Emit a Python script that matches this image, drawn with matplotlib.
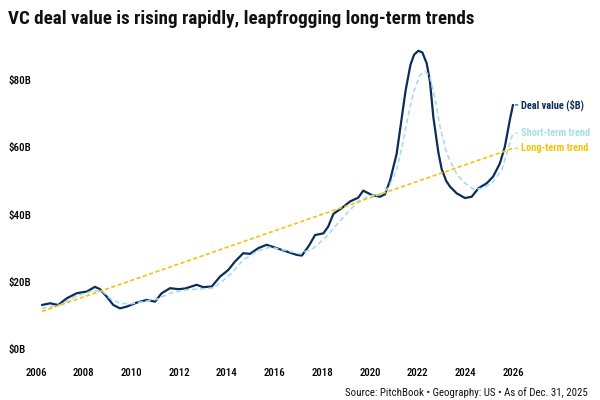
import matplotlib
matplotlib.use('Agg')
import matplotlib.pyplot as plt
from matplotlib.font_manager import fontManager

# 데이터 (그림에서 읽은 값, $B)
deal_years = [2006.25, 2006.59, 2006.93, 2007.29, 2007.71, 2008.13, 2008.47, 2008.68,
              2008.96, 2009.24, 2009.52, 2009.8, 2010.22, 2010.64, 2010.99, 2011.27,
              2011.62, 2011.97, 2012.25, 2012.74, 2013.01, 2013.37, 2013.71, 2014.06,
              2014.34, 2014.69, 2014.97, 2015.32, 2015.67, 2016.09, 2016.51, 2016.93,
              2017.15, 2017.45, 2017.7, 2018.05, 2018.25, 2018.47, 2018.82, 2019.17,
              2019.51, 2019.72, 2020.08, 2020.42, 2020.63, 2020.84, 2021.12, 2021.3,
              2021.5, 2021.7, 2021.85, 2022.03, 2022.2, 2022.38, 2022.52, 2022.66,
              2022.87, 2023.01, 2023.2, 2023.36, 2023.64, 2023.99, 2024.27, 2024.55,
              2024.9, 2025.17, 2025.45, 2025.66, 2025.87, 2026.0]
deal_values = [13.1, 13.6, 13.1, 15.1, 16.6, 17.1, 18.5, 17.8,
               15.6, 13.1, 12.1, 12.6, 13.8, 14.6, 14.1, 16.6,
               18.1, 17.8, 18.0, 19.1, 18.4, 18.6, 21.5, 23.5,
               26.0, 28.5, 28.3, 30.0, 31.0, 30.0, 29.0, 28.0,
               27.8, 30.8, 33.9, 34.4, 36.4, 40.2, 41.9, 43.9,
               45.0, 47.1, 45.8, 45.3, 46.0, 50.0, 58.0, 67.0,
               77.0, 84.5, 87.5, 88.7, 88.2, 85.0, 79.5, 69.0,
               58.5, 53.5, 50.0, 48.3, 46.3, 44.9, 45.3, 47.8,
               49.3, 51.3, 55.2, 60.2, 68.2, 72.6]

short_years = [2006.24, 2007.0, 2007.7, 2008.4, 2008.75, 2009.1, 2009.52, 2009.94,
               2010.5, 2011.06, 2011.62, 2012.32, 2013.43, 2014.13, 2014.69, 2015.25,
               2015.81, 2016.37, 2017.07, 2017.63, 2018.19, 2018.47, 2019.03, 2019.58,
               2020.0, 2020.5, 2020.77, 2021.12, 2021.33, 2021.54, 2021.82, 2022.1,
               2022.31, 2022.52, 2022.73, 2022.94, 2023.22, 2023.43, 2023.64, 2023.99,
               2024.34, 2024.76, 2025.17, 2025.53, 2025.74, 2026.0]
short_values = [12.1, 13.1, 15.8, 17.3, 17.4, 15.1, 13.6, 13.4,
                14.1, 14.8, 16.6, 17.6, 18.1, 22.0, 26.5, 29.0,
                30.3, 29.5, 28.3, 30.0, 33.5, 35.9, 40.4, 44.3,
                45.5, 46.3, 47.8, 53.3, 59.5, 67.2, 76.1, 81.5,
                82.6, 81.0, 74.6, 66.2, 58.2, 55.0, 52.0, 49.3,
                47.5, 47.8, 49.8, 53.3, 58.2, 64.2]

long_years = [2006.25, 2026.0]
long_values = [11.2, 59.7]

xtick_years = [2006, 2008, 2010, 2012, 2014, 2016, 2018, 2020, 2022, 2024, 2026]
ytick_values = [0, 20, 40, 60, 80]
ytick_labels = ['$0B', '$20B', '$40B', '$60B', '$80B']

navy = '#0b2d5c'
light_blue = '#a8dde8'
gold = '#f4c20d'

names = {f.name for f in fontManager.ttflist}
small_font = 'Roboto'
for cand in ['Roboto Condensed', 'Liberation Sans Narrow', 'DejaVu Sans Condensed']:
    if cand in names:
        small_font = cand
        break
plt.rcParams['font.family'] = [small_font, 'DejaVu Sans']

fig = plt.figure(figsize=(6, 4), dpi=100)
ax = fig.add_axes([0.0402, 0.1022, 0.934, 0.7818])

ax.plot(deal_years, deal_values, color=navy, lw=1.6, solid_capstyle='round',
        solid_joinstyle='round')
ax.plot(short_years, short_values, color=light_blue, lw=1.2, dashes=(3, 1.8))
ax.plot(long_years, long_values, color=gold, lw=1.2, dashes=(2.5, 1.5))

ax.set_xlim(2005.5, 2029)
ax.set_ylim(-3, 90)
ax.set_xticks(xtick_years)
ax.set_xticklabels([str(y) for y in xtick_years], fontsize=7.8, fontweight='medium')
ax.set_yticks(ytick_values)
ax.set_yticklabels(ytick_labels, fontsize=7.9, ha='left', fontweight='medium')
ax.tick_params(axis='y', length=0, pad=11.5)
ax.tick_params(axis='x', length=0, pad=6.5)
for s in ax.spines.values():
    s.set_visible(False)

# 선 끝 라벨
ends = [(deal_years[-1], deal_values[-1], 'Deal value ($B)', navy),
        (short_years[-1], short_values[-1], 'Short-term trend', light_blue),
        (long_years[-1], long_values[-1], 'Long-term trend', gold)]
for x, y, txt, c in ends:
    ax.annotate(txt, xy=(x, y), xytext=(5.5, 0), textcoords='offset points',
                va='center', ha='left', color=c, fontsize=7.5, fontweight='bold',
                arrowprops=dict(arrowstyle='-', color=c, lw=0.7, shrinkA=0, shrinkB=1.5))

fig.text(8 / 600, 1 - 19 / 400, 'VC deal value is rising rapidly, leapfrogging long-term trends',
         fontsize=13.7, fontweight='bold', va='center', ha='left', color='#111111')
fig.text(588 / 600, 1 - 393 / 400, 'Source: PitchBook • Geography: US • As of Dec. 31, 2025',
         fontsize=7.8, va='center', ha='right', color='#111111')

fig.savefig('out.png', dpi=100)
